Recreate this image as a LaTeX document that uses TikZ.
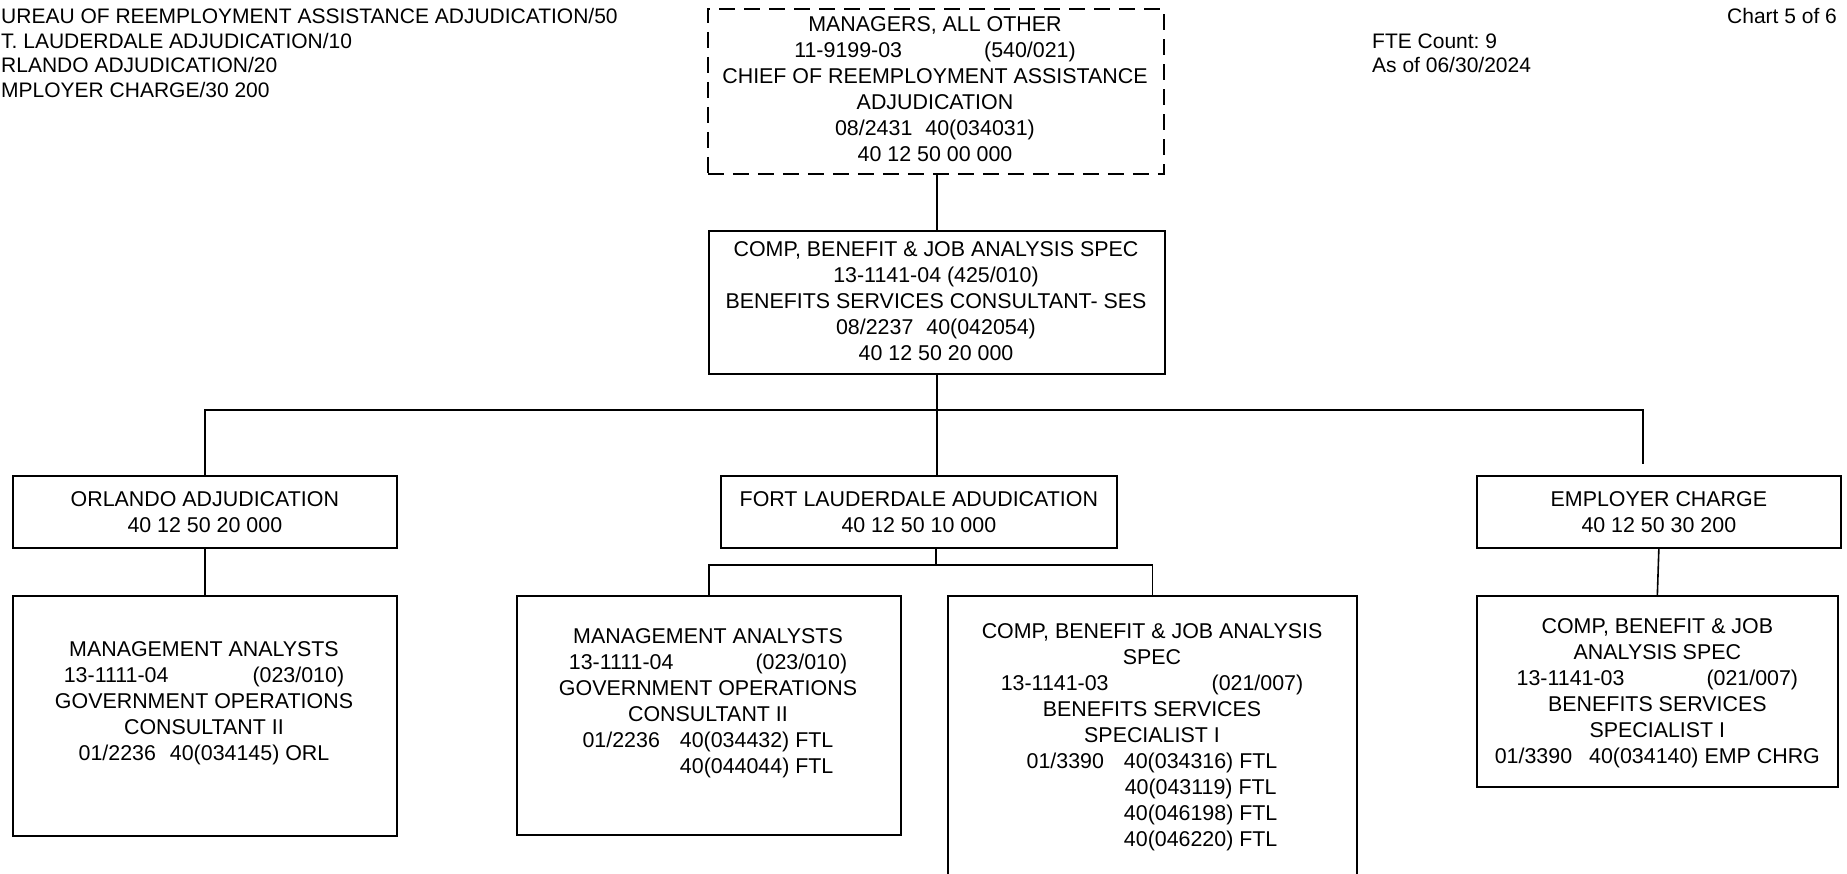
\documentclass[tikz,border=0pt]{standalone}
\usepackage{fontspec}
\setmainfont{Liberation Sans}
\frenchspacing
\begin{document}
\begin{tikzpicture}[x=1pt,y=-1pt,
  every node/.style={font=\fontsize{21.4}{26}\selectfont},
  box/.style={draw, line width=1.7pt, rectangle, inner sep=0pt, anchor=north west},
  dashbox/.style={box, dash pattern=on 16pt off 9pt},
  txt/.style={align=center, inner sep=0pt},
  note/.style={align=left, inner sep=0pt, anchor=west, font=\fontsize{21}{24.4}\selectfont},
  link/.style={line width=1.6pt},
  ]
\useasboundingbox (0,0) rectangle (1847,873);

% header notes
\node[note] (legend) at (1,53) {UREAU OF REEMPLOYMENT ASSISTANCE ADJUDICATION/50\\
T. LAUDERDALE ADJUDICATION/10\\
RLANDO ADJUDICATION/20\\
MPLOYER CHARGE/30 200};
\node[note] (fte) at (1372,53) {FTE Count: 9\\As of 06/30/2024};
\node[note] (chart) at (1727,16) {Chart 5 of 6};

% boxes
\node[dashbox, minimum width=456pt, minimum height=165pt] (chief) at (707,8) {};
\node[box, minimum width=456pt, minimum height=143pt] (spec) at (708,230) {};
\node[box, minimum width=384pt, minimum height=72pt] (orl) at (12,475) {};
\node[box, minimum width=396pt, minimum height=72pt] (fla) at (720,475) {};
\node[box, minimum width=364pt, minimum height=72pt] (emp) at (1476,475) {};
\node[box, minimum width=384pt, minimum height=240pt] (orlma) at (12,595) {};
\node[box, minimum width=384pt, minimum height=239pt] (ftlma) at (516,595) {};
\node[box, minimum width=409pt, minimum height=330pt] (ftlcb) at (947,595) {};
\node[box, minimum width=361pt, minimum height=191pt] (empcb) at (1476,595) {};

% box texts
\node[txt] (chieft) at (935,89) {MANAGERS, ALL OTHER\\
11-9199-03\hspace{82pt}(540/021)\\
CHIEF OF REEMPLOYMENT ASSISTANCE\\
ADJUDICATION\\
08/2431\hspace{13pt}40(034031)\\
40 12 50 00 000};
\node[txt] (spect) at (936,301) {COMP, BENEFIT \& JOB ANALYSIS SPEC\\
13-1141-04 (425/010)\\
BENEFITS SERVICES CONSULTANT- SES\\
08/2237\hspace{13pt}40(042054)\\
40 12 50 20 000};
\node[txt] (orlt) at (orl.center) {ORLANDO ADJUDICATION\\40 12 50 20 000};
\node[txt] (flat) at (fla.center) {FORT LAUDERDALE ADUDICATION\\40 12 50 10 000};
\node[txt] (empt) at (emp.center) {EMPLOYER CHARGE\\40 12 50 30 200};
\node[txt] (orlmat) at (204,703) {MANAGEMENT ANALYSTS\\
13-1111-04\hspace{84pt}(023/010)\\
GOVERNMENT OPERATIONS\\
CONSULTANT II\\
01/2236\hspace{14pt}40(034145) ORL};
\node[txt] (ftlmat) at (708,703) {MANAGEMENT ANALYSTS\\
13-1111-04\hspace{82pt}(023/010)\\
GOVERNMENT OPERATIONS\\
CONSULTANT II\\
01/2236\hspace{20pt}40(034432) FTL\\
\phantom{01/2236}\hspace{20pt}40(044044) FTL};
\node[txt] (ftlcbt) at (1152,737) {COMP, BENEFIT \& JOB ANALYSIS\\
SPEC\\
13-1141-03\hspace{103pt}(021/007)\\
BENEFITS SERVICES\\
SPECIALIST I\\
01/3390\hspace{20pt}40(034316) FTL\\
\phantom{01/3390}\hspace{20pt}40(043119) FTL\\
\phantom{01/3390}\hspace{20pt}40(046198) FTL\\
\phantom{01/3390}\hspace{20pt}40(046220) FTL};
\node[txt] (empcbt) at ([yshift=-2pt]empcb.center) {COMP, BENEFIT \& JOB\\
ANALYSIS SPEC\\
13-1141-03\hspace{82pt}(021/007)\\
BENEFITS SERVICES\\
SPECIALIST I\\
01/3390\hspace{17pt}40(034140) EMP CHRG};

% junctions
\coordinate (bus) at (936,410);
\coordinate (busR) at (1643,464);
\coordinate (flasub) at (936,565);

% connectors
\draw[link] (chief.south -| spec.north) -- (spec.north);
\draw[link] (spec.south) -- (spec.south |- fla.north);
\draw[link] (orl.north) |- (bus) -| (busR);
\draw[link] (orl.south) -- (orlma.north);
\draw[link] (fla.south -| flasub) -- (flasub);
\draw[link] (ftlma.north) |- (flasub) -| (ftlcb.north);
\draw[link] (emp.south) -- (empcb.north);
\end{tikzpicture}
\end{document}
